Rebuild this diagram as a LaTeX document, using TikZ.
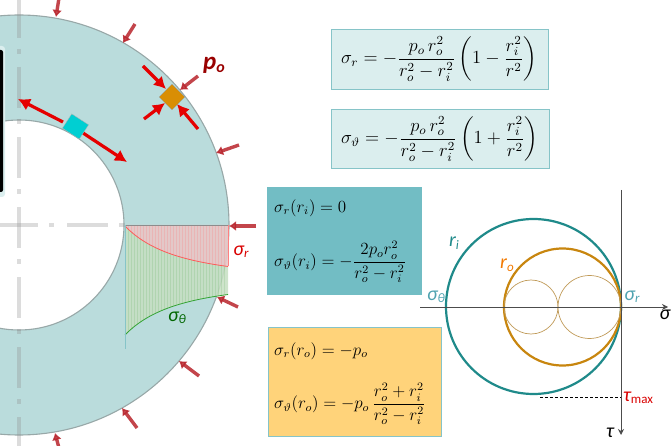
\documentclass[tikz,border=0pt]{standalone}
\usepackage{amsmath}
\usepackage{amssymb}
\usepackage{fontspec}
\usepackage{tikz}
\usetikzlibrary{arrows.meta}
\newfontfamily\labelfont{Carlito}
\definecolor{ringfill}{HTML}{BADCDC}
\definecolor{ringedge}{HTML}{98A8A8}
\definecolor{forcered}{HTML}{B8242C}
\definecolor{boxpale}{HTML}{DBEEEE}
\definecolor{boxedge}{HTML}{86C4C8}
\definecolor{boxteal}{HTML}{72BDC4}
\definecolor{boxyellow}{HTML}{FFD37A}
\definecolor{mohrteal}{HTML}{1F8A8A}
\definecolor{mohrorange}{HTML}{C8860F}
\definecolor{mohrthin}{HTML}{C09A58}
\definecolor{labelteal}{HTML}{4FA3B0}
\definecolor{elemorange}{HTML}{D98E04}
\definecolor{elemcyan}{HTML}{00CFD2}
\definecolor{stressred}{HTML}{E8C6C6}
\definecolor{stressgreen}{HTML}{C6DFC2}
\tikzset{
	eqbox/.style={draw=boxedge,line width=.9pt,fill=boxpale,minimum height=0pt,inner sep=0pt},
	pressure/.style={draw=forcered,line width=3.4pt,-{Latex[length=7pt,width=10pt]},opacity=.85},
	stressarrow/.style={draw=red!90!black,line width=3.2pt,-{Latex[length=12pt,width=13pt]}},
	centreline/.style={draw=black!45,line width=3.5pt,opacity=.3,dash pattern=on 41pt off 11pt on 5pt off 13pt},
	mohraxis/.style={draw=black!70,line width=.9pt,-{Stealth[length=6pt,width=6pt]}},
	sanslabel/.style={font=\labelfont\fontsize{20}{20}\selectfont,inner sep=0pt},
	eqlabel/.style={font=\fontsize{12}{15}\selectfont,inner sep=0pt,anchor=west},
}
\newcommand{\lowered}[1]{\raisebox{-2.5pt}{\fontsize{13}{13}\selectfont #1}}
\newcommand{\eqscale}[1]{\scalebox{1.42}{#1}}
\newcommand{\eqscalebig}[1]{\scalebox{1.54}{#1}}
\begin{document}
\begin{tikzpicture}[x=1pt,y=-1pt]
	\useasboundingbox (0,0) rectangle (672,446);
	\begin{scope}
		\clip (0,0) rectangle (260,446);
		\fill[ringfill,even odd rule] (19,225) circle (210) (19,225) circle (105);
		\draw[ringedge,line width=1.1pt] (19,225) circle (210);
		\draw[ringedge,line width=1.1pt] (19,225) circle (105);
		\draw[centreline] (19,-3) -- (19,446);
		\draw[centreline] (-3,225) -- (125,225);
		\foreach \xa/\ya/\xb/\yb in {%
			59/-2/56/17, 135/24/123/43, 198/76/180/90,%
			239/145/216/153, 256/226/229/226, 238/307/217/297,%
			199/376/179/361, 137/428/122/408, 59/448/55/433%
			} {%
			\draw[pressure] (\xa,\ya) -- (\xb,\yb);
		}
	\end{scope}
	% stress curves across the wall
	\fill[stressred,fill opacity=.9] (125,225) -- (228,225) -- (228,266)
		-- plot[domain=209:106,samples=40] ({\x+19},{225+55.5*(1-(105/\x)*(105/\x))}) -- cycle;
	\fill[stressgreen,fill opacity=.85] (125,225)
		-- plot[domain=106:209,samples=40] ({\x+19},{225+55.5*(1-(105/\x)*(105/\x))})
		-- (228,294)
		-- plot[domain=209:106,samples=40] ({\x+19},{225+55.5*(1+(105/\x)*(105/\x))}) -- cycle;
	\foreach \cx in {128,131,...,226}{
		\draw[red!55,line width=.4pt,opacity=.22] (\cx,225) -- ({\cx},{225+55.5*(1-(105/(\cx-19))*(105/(\cx-19)))});
		\draw[green!50!black,line width=.4pt,opacity=.1] (\cx,{225+55.5*(1-(105/(\cx-19))*(105/(\cx-19)))}) -- ({\cx},{225+55.5*(1+(105/(\cx-19))*(105/(\cx-19)))});
	}
	\draw[black!45,line width=.7pt] (125,225) -- (229,225);
	\draw[red!65!white,line width=.8pt] plot[domain=106:209,samples=40] ({\x+19},{225+55.5*(1-(105/\x)*(105/\x))});
	\draw[green!55!black!80,line width=.8pt] plot[domain=106:209,samples=40] ({\x+19},{225+55.5*(1+(105/\x)*(105/\x))});
	\draw[boxedge,line width=.4pt] (125,225) -- (125,349);
	\draw[red!50,line width=.5pt] (228,225) -- (228,266);
	% element squares
	\foreach \xa/\ya/\xb/\yb in {143/66/166/89, 198/129/177/104, 144/119/165/103, 63/122/18/99, 83/133/127/162}{
		\draw[stressarrow] (\xa,\ya) -- (\xb,\yb);
	}
	\node (outerelement) [draw=black!45,line width=.3pt,fill=elemorange,rotate=45,minimum size=18pt,inner sep=0pt] at (172,97) {};
	\node (innerelement) [draw=black!30,line width=.3pt,fill=elemcyan,rotate=-33,minimum width=20pt,minimum height=17pt,inner sep=0pt] at (75.5,126.5) {};
	% black screen edge
	\fill[boxpale,rounded corners=3pt] (-8,46) rectangle (5,197);
	\fill[black,rounded corners=2pt] (-8,50) rectangle (3,192);
	% equations
	\node (sigmar) [eqbox,minimum width=217pt,minimum height=60pt] at (439.5,59) {};
	\node (sigmarform) [eqlabel] at (341,59) {\eqscalebig{$\displaystyle\sigma_r=-\frac{p_o\,r_o^2}{r_o^2-r_i^2}\left(1-\frac{r_i^2}{r^2}\right)$}};
	\node (sigmath) [eqbox,minimum width=218pt,minimum height=59pt] at (440,138.5) {};
	\node (sigmathform) [eqlabel] at (341,139) {\eqscalebig{$\displaystyle\sigma_\vartheta=-\frac{p_o\,r_o^2}{r_o^2-r_i^2}\left(1+\frac{r_i^2}{r^2}\right)$}};
	\node (innerbox) [eqbox,draw=none,fill=boxteal,minimum width=155pt,minimum height=108pt] at (344.5,241) {};
	\node (innerr) [eqlabel] at (274,208) {\eqscale{$\sigma_r(r_i)=0$}};
	\node (innerth) [eqlabel] at (274,262) {\eqscale{$\displaystyle\sigma_\vartheta(r_i)=-\frac{2p_or_o^2}{r_o^2-r_i^2}$}};
	\node (outerbox) [eqbox,line width=.6pt,fill=boxyellow,minimum width=173pt,minimum height=109pt] at (354.5,381.5) {};
	\node (outerr) [eqlabel] at (274,351) {\eqscale{$\sigma_r(r_o)=-p_o$}};
	\node (outerth) [eqlabel] at (274,404) {\eqscale{$\displaystyle\sigma_\vartheta(r_o)=-p_o\,\frac{r_o^2+r_i^2}{r_o^2-r_i^2}$}};
	% Mohr circles
	\draw[mohrteal,line width=2.2pt] (533.5,306.5) circle (87.5);
	\draw[mohrorange,line width=2.2pt] (562.5,307) circle (58.5);
	\draw[mohrthin,line width=.7pt] (531,307) circle (27);
	\draw[mohrthin,line width=.7pt] (589.5,307) circle (31.5);
	\coordinate (tauleft) at (540,397);
	\coordinate (tauright) at (621,397);
	\draw[densely dashed,line width=.5pt] (tauleft) -- (tauright);
	\draw[mohraxis] (420,307) -- (668,307);
	\draw[mohraxis] (621,190) -- (621,435);
	% labels
	\node (polabel) [font=\labelfont\fontsize{25}{25}\selectfont\bfseries\itshape,text=red!60!black,inner sep=0pt] at (214,65) {p\raisebox{-3pt}{\fontsize{16}{16}\selectfont o}};
	\node (srlabel) [sanslabel,text=red!85!black] at (241,252) {\itshape σ\lowered{r}};
	\node (stlabel) [sanslabel,text=green!40!black] at (177,318) {\itshape σ\lowered{θ}};
	\node (rilabel) [sanslabel,text=mohrteal] at (454,243) {\itshape r\lowered{i}};
	\node (rolabel) [sanslabel,text=orange!95!black] at (507,265) {\itshape r\lowered{o}};
	\node (mtlabel) [sanslabel,text=labelteal] at (436,297) {\itshape σ\lowered{θ}};
	\node (mrlabel) [sanslabel,text=labelteal] at (632,297) {\itshape σ\lowered{r}};
	\node (sigmaaxis) [sanslabel,text=black] at (665,315) {\itshape σ};
	\node (tauaxis) [sanslabel,text=black] at (610,433) {\itshape τ};
	\node (taumax) [sanslabel,text=red!85!black,anchor=west] at (623,398) {\itshape τ\lowered{\upshape max}};
\end{tikzpicture}
\end{document}
